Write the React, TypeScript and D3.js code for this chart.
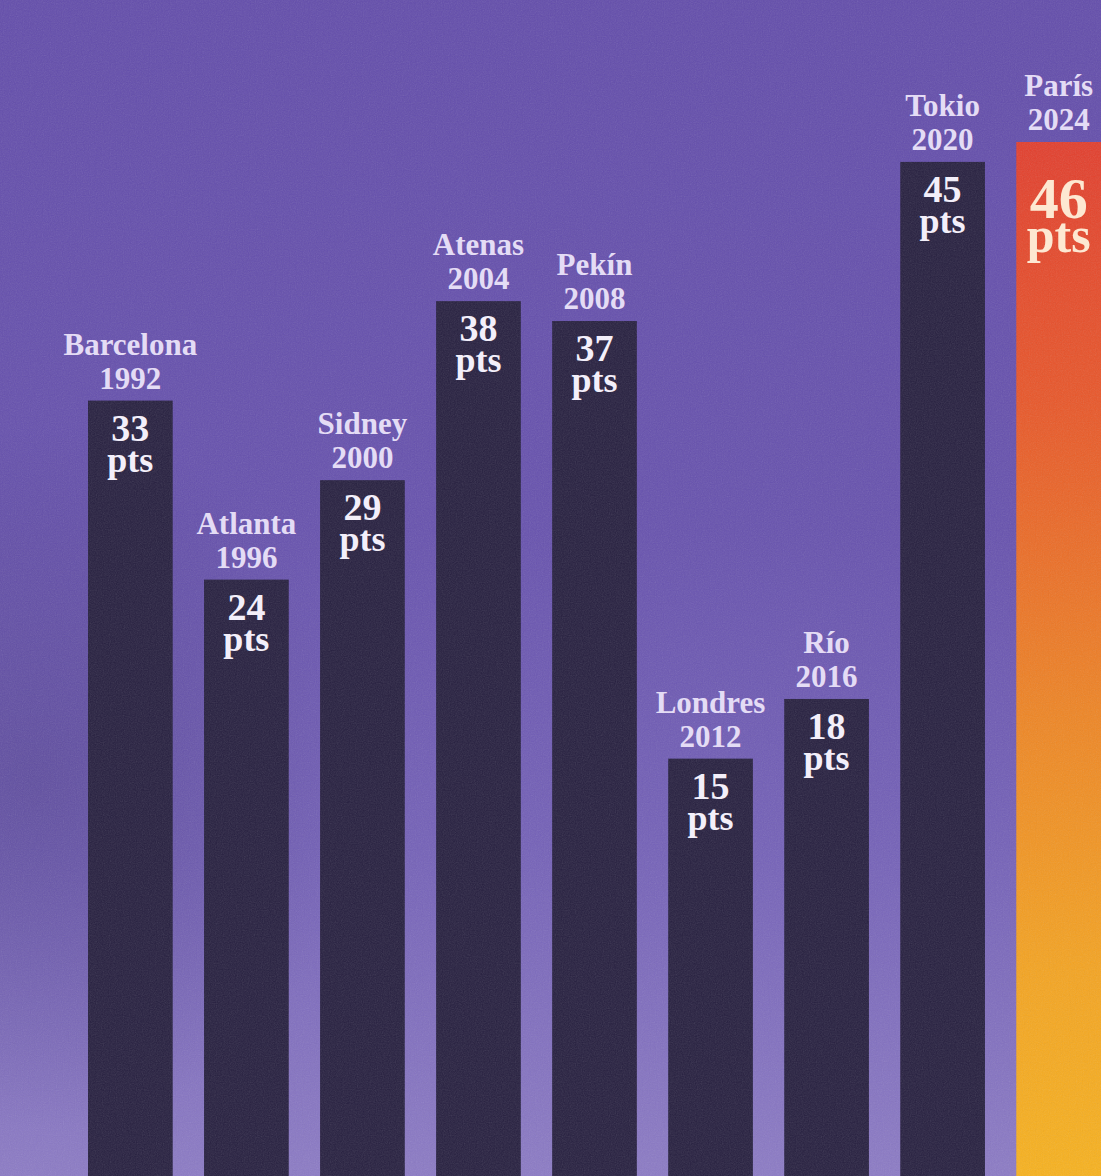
import React from "react";
import * as d3 from "d3";

const cities = ["Barcelona", "Atlanta", "Sidney", "Atenas", "Pekín", "Londres", "Río", "Tokio", "París"];
const years = ["1992", "1996", "2000", "2004", "2008", "2012", "2016", "2020", "2024"];
const points = [33, 24, 29, 38, 37, 15, 18, 45, 46];
const unit = "pts";

const W = 1101;
const H = 1176;

export default function App() {
  const data = cities.map((c, i) => ({ city: c, year: years[i], value: points[i], key: c + years[i] }));
  const x = d3.scaleBand<string>().domain(data.map((d) => d.key)).range([88, 1101]).paddingInner(0.27).paddingOuter(0);
  const y = d3.scaleLinear().domain([0, 46]).range([1057, 142]);
  const last = data.length - 1;
  const serif = "'Liberation Serif', 'DejaVu Serif', serif";

  return (
    <svg width={W} height={H} style={{ position: "absolute", left: 0, top: 0, display: "block" }}>
      <defs>
        <linearGradient id="bg" x1="0" y1="0" x2="0" y2="1">
          <stop offset="0%" stopColor="#634dab" />
          <stop offset="45%" stopColor="#6752ae" />
          <stop offset="72%" stopColor="#7461b8" />
          <stop offset="100%" stopColor="#8c7bc5" />
        </linearGradient>
        <radialGradient id="cloud" cx="0.03" cy="0.66" r="0.3">
          <stop offset="0%" stopColor="#4f3f8a" stopOpacity="0.5" />
          <stop offset="100%" stopColor="#4f3f8a" stopOpacity="0" />
        </radialGradient>
        <linearGradient id="paris" gradientUnits="userSpaceOnUse" x1="0" y1={y(points[last])} x2="0" y2={H}>
          <stop offset="0%" stopColor="#e23f2e" />
          <stop offset="25%" stopColor="#e8572a" />
          <stop offset="55%" stopColor="#ee8525" />
          <stop offset="80%" stopColor="#f4a422" />
          <stop offset="100%" stopColor="#f7b21f" />
        </linearGradient>
        <filter id="noise" x="0" y="0" width="100%" height="100%">
          <feTurbulence type="fractalNoise" baseFrequency="0.85" numOctaves="2" seed="3" result="t" />
          <feColorMatrix type="saturate" values="0" />
          <feComponentTransfer>
            <feFuncA type="table" tableValues="0 0.16" />
          </feComponentTransfer>
        </filter>
      </defs>
      <rect x={0} y={0} width={W} height={H} fill="url(#bg)" />
      <rect x={0} y={0} width={W} height={H} fill="url(#cloud)" />
      {data.map((d, i) => (
        <rect
          key={d.key}
          x={x(d.key)}
          y={y(d.value)}
          width={x.bandwidth()}
          height={H - y(d.value)}
          fill={i === last ? "url(#paris)" : "#272040"}
        />
      ))}
      <rect x={0} y={0} width={W} height={H} filter="url(#noise)" />
      {data.map((d, i) => {
        const cx = (x(d.key) as number) + x.bandwidth() / 2;
        const top = y(d.value);
        const isLast = i === last;
        const valColor = isLast ? "#fde8d2" : "#f3effa";
        return (
          <g key={"t" + d.key} fontFamily={serif} textAnchor="middle" fontWeight="bold">
            <text x={cx} y={top - 46} fontSize={31} fill="#e4dcf5">
              <tspan x={cx}>{d.city}</tspan>
              <tspan x={cx} dy={34}>{d.year}</tspan>
            </text>
            <text x={cx} y={top + (isLast ? 76 : 40)} fill={valColor}>
              <tspan x={cx} fontSize={isLast ? 58 : 38}>{d.value}</tspan>
              <tspan x={cx} dy={isLast ? 34 : 31} fontSize={isLast ? 50 : 36}>{unit}</tspan>
            </text>
          </g>
        );
      })}
    </svg>
  );
}
